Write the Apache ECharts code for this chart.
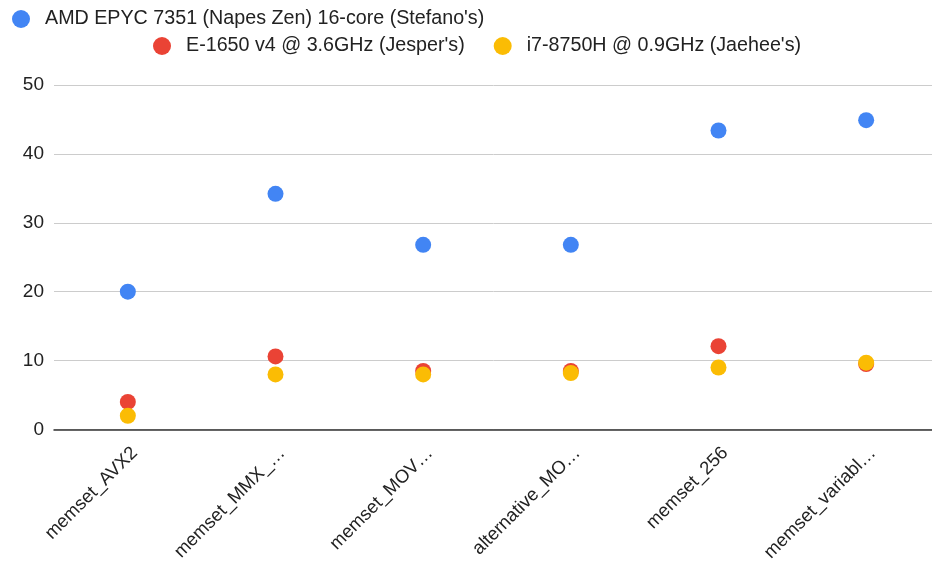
<!DOCTYPE html>
<html>
<head>
<meta charset="utf-8">
<script src="https://cdn.jsdelivr.net/npm/echarts@6/dist/echarts.min.js"></script>
<style>
  html, body { margin: 0; padding: 0; background: #fff; overflow: hidden; }
  #chart { width: 932px; height: 562px; }
</style>
</head>
<body>
<div id="chart"></div>
<script>
// Benchmark categories (labels as shown, truncated)
const categories = [
  'memset_AVX2',
  'memset_MMX_…',
  'memset_MOV…',
  'alternative_MO…',
  'memset_256',
  'memset_variabl…'
];

const seriesNames = [
  "AMD EPYC 7351 (Napes Zen) 16-core (Stefano's)",
  "E-1650 v4 @ 3.6GHz (Jesper's)",
  "i7-8750H @ 0.9GHz (Jaehee's)"
];

const amdValues   = [20.0, 34.2, 26.8, 26.8, 43.4, 44.9];
const e1650Values = [4.0, 10.6, 8.5, 8.5, 12.1, 9.5];
const i7Values    = [2.0, 8.0, 8.0, 8.2, 9.0, 9.7];

const yTicks = { min: 0, max: 50, interval: 10 };

const colors = ['#4285F4', '#EA4335', '#FBBC04'];
const font = 'Liberation Sans, Arial, sans-serif';

const chart = echarts.init(document.getElementById('chart'), null, { renderer: 'canvas' });

const legendCommon = {
  icon: 'circle',
  padding: 0,
  itemWidth: 18,
  itemHeight: 18,
  itemGap: 29,
  textStyle: { fontFamily: font, fontSize: 19.7, color: '#222', padding: [0, 0, 0, 10] }
};

function scatter(name, data, color) {
  return {
    name: name,
    type: 'scatter',
    data: data,
    symbol: 'circle',
    symbolSize: 16,
    itemStyle: { color: color, opacity: 1 },
    emphasis: { disabled: true }
  };
}

chart.setOption({
  animation: false,
  color: colors,
  legend: [
    Object.assign({ data: [seriesNames[0]], left: 12, top: 9 }, legendCommon),
    Object.assign({ data: [seriesNames[1], seriesNames[2]], left: 153, top: 36 }, legendCommon)
  ],
  // the last category slot runs a little past the right edge
  grid: { left: 54, top: 85, right: -8, bottom: 132.5, containLabel: false, outerBoundsMode: 'none' },
  xAxis: {
    type: 'category',
    data: categories,
    boundaryGap: true,
    axisLine: { show: true, lineStyle: { color: '#333', width: 1.5 } },
    axisTick: { show: false },
    axisLabel: {
      rotate: 45,
      interval: 0,
      margin: 14,
      verticalAlign: 'top',
      fontFamily: font,
      fontSize: 18.5,
      color: '#222'
    },
    splitLine: { show: false }
  },
  yAxis: {
    type: 'value',
    min: yTicks.min,
    max: yTicks.max,
    interval: yTicks.interval,
    axisLine: { show: false },
    axisTick: { show: false },
    axisLabel: { fontFamily: font, fontSize: 19, color: '#222', margin: 10 },
    splitLine: { lineStyle: { color: '#cccccc', width: 1 } }
  },
  series: [
    scatter(seriesNames[0], amdValues, colors[0]),
    scatter(seriesNames[1], e1650Values, colors[1]),
    scatter(seriesNames[2], i7Values, colors[2])
  ]
});
</script>
</body>
</html>
